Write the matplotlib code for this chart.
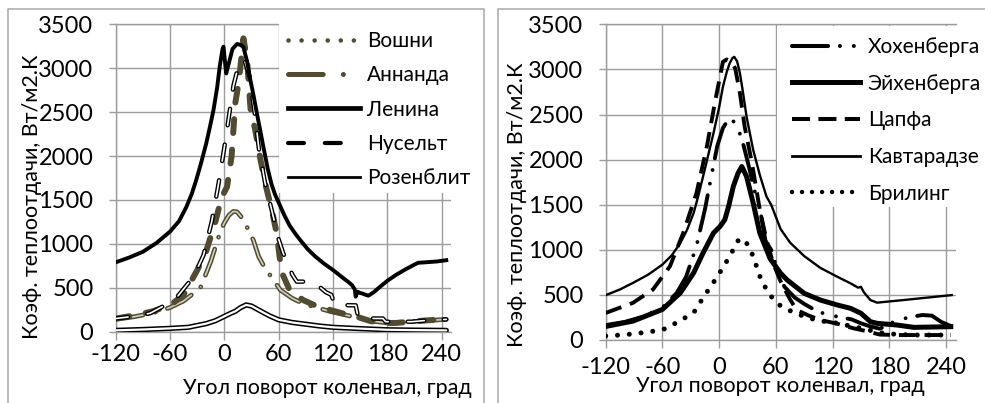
import matplotlib
matplotlib.use("Agg")
import matplotlib.pyplot as plt
from matplotlib.lines import Line2D
from matplotlib.patches import Rectangle

plt.rcParams['font.family'] = ['Lato', 'DejaVu Sans']
plt.rcParams['lines.scale_dashes'] = False   # dash patterns in points
plt.rcParams['axes.unicode_minus'] = False   # "-120" with a plain hyphen like Excel

# ---------------- data, left panel ----------------
ang_lenin = [-120, -105, -90, -75, -60, -50, -42, -36, -31, -26, -20, -16, -12, -8, -5, -2, -1, 2, 5, 9, 14, 18,
             21, 25, 28, 32, 36, 40, 43, 48, 52, 56, 60, 66, 72, 78, 84, 92, 100, 110, 120, 130, 137, 141, 144,
             145, 147, 150, 152, 156, 159, 165, 170, 180, 190, 200, 210, 214, 222, 235, 245]
h_lenin = [790, 845, 910, 1010, 1140, 1260, 1420, 1570, 1730, 1910, 2145, 2330, 2525, 2780, 3030, 3220, 3245, 2940, 3060, 3220, 3276, 3265,
           3240, 3080, 2900, 2700, 2480, 2270, 2106, 1850, 1680, 1560, 1470, 1330, 1210, 1120, 1040, 940, 860, 775, 702, 620, 565, 530, 480,
           399, 455, 440, 436, 420, 410, 450, 495, 580, 650, 710, 765, 785, 790, 800, 814]

ang_rozen = [-120, -90, -60, -40, -20, -10, 0, 8, 12, 18, 24, 30, 40, 50, 60, 75, 90, 105, 120, 150, 180, 210, 245]
h_rozen = [15, 25, 38, 50, 92, 125, 175, 215, 232, 275, 305, 292, 235, 180, 135, 105, 85, 65, 50, 35, 22, 18, 15]

ang_voshni = [-120, -100, -80, -60, -45, -30, -20, -10, -3, 3, 8, 12, 16, 21, 25, 29, 34, 40, 46, 52, 58, 61, 64,
              72, 87, 100, 117, 130, 146, 160, 172, 190, 205, 225, 245]
h_voshni = [150, 185, 230, 300, 420, 700, 920, 1250, 1530, 1650, 2000, 2600, 2850, 3340, 3100, 2520, 2300, 1950, 1650, 1400, 1110, 850, 660,
            475, 360, 300, 247, 210, 171, 125, 96, 100, 114, 130, 141]

ang_annand = [-120, -100, -80, -60, -45, -35, -26, -15, -4, 0, 5, 10, 14, 20, 26, 32, 38, 44, 50, 56, 62,
              75, 87, 100, 117, 130, 146, 160, 180, 200, 220, 245]
h_annand = [140, 170, 210, 275, 350, 430, 511, 800, 1155, 1240, 1326, 1370, 1364, 1290, 1170, 1042, 852, 739, 650, 560, 473,
            380, 320, 280, 230, 200, 160, 125, 100, 110, 125, 140]

ang_nusselt = [-120, -100, -82, -55, -34, -23, -14, -7, 0, 5, 10, 16, 22, 28, 34, 38, 45, 54, 60, 65, 70, 75, 80,
               95, 104, 112, 118, 122, 145, 148, 175, 178, 207, 225, 245]
h_nusselt = [150, 175, 210, 360, 626, 873, 1252, 1651, 2100, 2450, 2800, 3050, 3100, 2900, 2450, 2090, 1690, 1310, 1050, 892, 779, 650, 570,
             570, 520, 450, 420, 304, 300, 152, 150, 114, 114, 130, 140]

# ---------------- data, right panel ----------------
ang_hoch = [-120, -100, -80, -60, -45, -35, -24, -15, -8, -2, 4, 10, 14, 20, 26, 32, 38, 44, 49, 55, 62, 69, 80,
            90, 100, 110, 125, 140, 150, 160, 170, 185, 200, 215, 225, 235, 245]
h_hoch = [165, 200, 260, 360, 520, 700, 1040, 1450, 1830, 2150, 2350, 2450, 2440, 2350, 2150, 1900, 1630, 1400, 1100, 1000, 760, 591, 470,
          400, 340, 296, 259, 229, 185, 150, 125, 203, 250, 277, 270, 200, 155]

ang_eich = [-120, -91, -60, -41, -27, -17, -6, 1, 6, 10, 15, 20, 24, 29, 36, 43, 54, 65, 72, 90, 107, 125, 139, 150,
            160, 167, 188, 206, 245]
h_eich = [150, 210, 339, 523, 744, 965, 1186, 1260, 1334, 1481, 1703, 1850, 1923, 1813, 1518, 1186, 900, 740, 665, 517, 443, 388, 351, 296,
          203, 185, 166, 140, 148]

ang_zapf = [-120, -91, -70, -52, -38, -24, -13, -4, 4, 8, 13, 17, 22, 27, 33, 36, 43, 50, 57, 65, 75, 82, 95, 107,
            125, 142, 155, 170, 190, 210, 245]
h_zapf = [300, 413, 560, 818, 1186, 1629, 2145, 2660, 3084, 3110, 3080, 3012, 2735, 2365, 2050, 1880, 1444, 1113, 855, 650, 450, 332, 270, 222,
          180, 130, 100, 60, 55, 55, 55]

ang_kavt = [-120, -105, -91, -75, -60, -50, -41, -34, -27, -22, -17, -12, -6, 0, 4, 8, 11, 14, 16, 19, 22, 25, 29, 36, 43, 50,
            55, 65, 75, 90, 107, 125, 139, 147, 150, 153, 160, 167, 195, 223, 246]
h_kavt = [497, 560, 634, 725, 836, 940, 1076, 1220, 1407, 1600, 1813, 2030, 2292, 2580, 2808, 2970, 3065, 3125, 3139, 3090, 2955, 2760, 2476, 2108, 1830, 1592,
          1500, 1230, 1080, 930, 800, 701, 628, 580, 590, 530, 443, 414, 443, 473, 498]

ang_bril = [-120, -100, -80, -60, -45, -27, -17, -4, 6, 13, 20, 25, 30, 36, 43, 50, 58, 66, 78, 90, 105, 124, 142,
            155, 170, 190, 210, 245]
h_bril = [45, 58, 82, 112, 192, 302, 468, 670, 836, 965, 1100, 1125, 1060, 928, 707, 560, 440, 370, 310, 260, 215, 188, 148,
          120, 80, 60, 55, 55]

labels_left = ['Вошни', 'Аннанда', 'Ленина', 'Нусельт', 'Розенблит']
labels_right = ['Хохенберга', 'Эйхенберга', 'Цапфа', 'Кавтарадзе', 'Брилинг']

xticks = [-120, -60, 0, 60, 120, 180, 240]
yticks = [0, 500, 1000, 1500, 2000, 2500, 3000, 3500]

OLIVE = '#514b32'
GRID = '#9c9c9c'
FS_TICK = 17
FS_LEG = 15
FS_TITLE = 15.5
W, H = 985, 403

fig = plt.figure(figsize=(9.85, 4.03), dpi=100)
fig.patch.set_facecolor('white')

# panel frames (thin gray boxes as in the source document)
for xs, ys in [([8, 8, 484, 484], [403, 9, 9, 403]), ([498, 498, 985], [403, 9, 9])]:
    fig.add_artist(Line2D([x / W for x in xs], [1 - y / H for y in ys], color='#a8a8a8', lw=1.1))

ax1 = fig.add_axes([115.7 / W, 1 - 331.7 / H, 335.1 / W, 307.4 / H])
ax2 = fig.add_axes([605.7 / W, 1 - 340 / H, 349.8 / W, 315.7 / H])


def style(ax, xpad):
    ax.set_xlim(-120, 250)
    ax.set_ylim(0, 3500)
    ax.set_xticks(xticks)
    ax.set_yticks(yticks)
    ax.grid(True, color=GRID, lw=1.0, zorder=0)
    ax.set_axisbelow(True)
    for s in ['left', 'bottom', 'top']:
        ax.spines[s].set_color(GRID)
        ax.spines[s].set_linewidth(1.0)
    ax.spines['right'].set_visible(False)
    ax.tick_params(axis='x', length=6, width=1, color=GRID, pad=xpad, labelsize=FS_TICK)
    ax.tick_params(axis='y', length=5, width=1, color=GRID, pad=11, labelsize=FS_TICK)


style(ax1, 3)
style(ax2, 6)

# white areas behind the legends (they hide the grid like in Excel)
ax1.add_patch(Rectangle((279 / W, 1 - 193 / H), 205 / W, 181 / H, transform=fig.transFigure,
                        facecolor='white', edgecolor='none', clip_on=False, zorder=6))
ax2.add_patch(Rectangle((777 / W, 1 - 207 / H), 208 / W, 181 / H, transform=fig.transFigure,
                        facecolor='white', edgecolor='none', clip_on=False, zorder=6))

# ---- left panel curves ----
ax1.plot(ang_rozen, h_rozen, color='k', lw=3.8, solid_capstyle='round', zorder=3)
ax1.plot(ang_rozen, h_rozen, color='white', lw=1.6, solid_capstyle='round', zorder=3)

ax1.plot(ang_annand, h_annand, color=OLIVE, lw=3.4, ls=(0, (20, 9, 0.01, 9)), dash_capstyle='round', zorder=3)
ax1.plot(ang_annand, h_annand, color='#d6d1bb', lw=1.2, ls=(0, (20, 9, 0.01, 9)), dash_capstyle='round', zorder=3)

ax1.plot(ang_voshni, h_voshni, color=OLIVE, lw=4.3, ls=(0, (10, 12)), dash_capstyle='round', zorder=4)

ax1.plot(ang_nusselt, h_nusselt, color='k', lw=3.2, ls=(3, (12, 14)), dash_capstyle='round', zorder=4)
ax1.plot(ang_nusselt, h_nusselt, color='white', lw=1.2, ls=(3, (12, 14)), dash_capstyle='round', zorder=4)

ax1.plot(ang_lenin, h_lenin, color='k', lw=2.8, zorder=5)

hl = [Line2D([], [], color=OLIVE, lw=3.3, ls=(0, (0.01, 9.4)), dash_capstyle='round'),
      Line2D([], [], color=OLIVE, lw=3.6, ls=(0, (25, 14.5, 0.01, 14.5)), dash_capstyle='round'),
      Line2D([], [], color='k', lw=3.4),
      Line2D([], [], color='k', lw=3.0, ls=(0, (11.5, 15)), dash_capstyle='round'),
      Line2D([], [], color='k', lw=2.0)]
leg1 = ax1.legend(hl, labels_left, loc='upper left', bbox_to_anchor=(288 / W, 1 - 31 / H),
                  bbox_transform=fig.transFigure, fontsize=FS_LEG, frameon=False,
                  borderaxespad=0, borderpad=0, handlelength=3.45, handletextpad=0.33,
                  labelspacing=0.69)
leg1.set_zorder(7)

# ---- right panel curves ----
hoch_ls = (0, (26, 8.5, 0.01, 10, 0.01, 8.5))
ax2.plot(ang_bril, h_bril, color='k', lw=3.6, ls=(0, (0.01, 8.5)), dash_capstyle='round', zorder=3)
ax2.plot(ang_zapf, h_zapf, color='k', lw=2.8, ls=(0, (12, 6.5)), zorder=3)
ax2.plot(ang_hoch, h_hoch, color='k', lw=2.8, ls=hoch_ls, dash_capstyle='round', zorder=3)
ax2.plot(ang_kavt, h_kavt, color='k', lw=1.7, zorder=4)
ax2.plot(ang_eich, h_eich, color='k', lw=3.6, zorder=4)

hr = [Line2D([], [], color='k', lw=2.9, ls=hoch_ls, dash_capstyle='round'),
      Line2D([], [], color='k', lw=3.6),
      Line2D([], [], color='k', lw=2.9, ls=(0, (13, 6))),
      Line2D([], [], color='k', lw=2.0),
      Line2D([], [], color='k', lw=3.2, ls=(0, (0.01, 7.2)), dash_capstyle='round')]
leg2 = ax2.legend(hr, labels_right, loc='upper left', bbox_to_anchor=(792 / W, 1 - 37 / H),
                  bbox_transform=fig.transFigure, fontsize=FS_LEG, frameon=False,
                  borderaxespad=0, borderpad=0, handlelength=3.26, handletextpad=0.38,
                  labelspacing=0.8)
leg2.set_zorder(7)

# axis titles
fig.text(32 / W, 1 - 197 / H, 'Коэф. теплоотдачи, Вт/м2.К', rotation=90, ha='center', va='center', fontsize=FS_TITLE)
fig.text(327 / W, 1 - 388 / H, 'Угол поворот коленвал, град', ha='center', va='center', fontsize=FS_TITLE)
fig.text(517 / W, 1 - 205 / H, 'Коэф. теплоотдачи, Вт/м2.К', rotation=90, ha='center', va='center', fontsize=FS_TITLE)
fig.text(780 / W, 1 - 386 / H, 'Угол поворот коленвал, град', ha='center', va='center', fontsize=FS_TITLE)

fig.savefig('out.png', dpi=100)
